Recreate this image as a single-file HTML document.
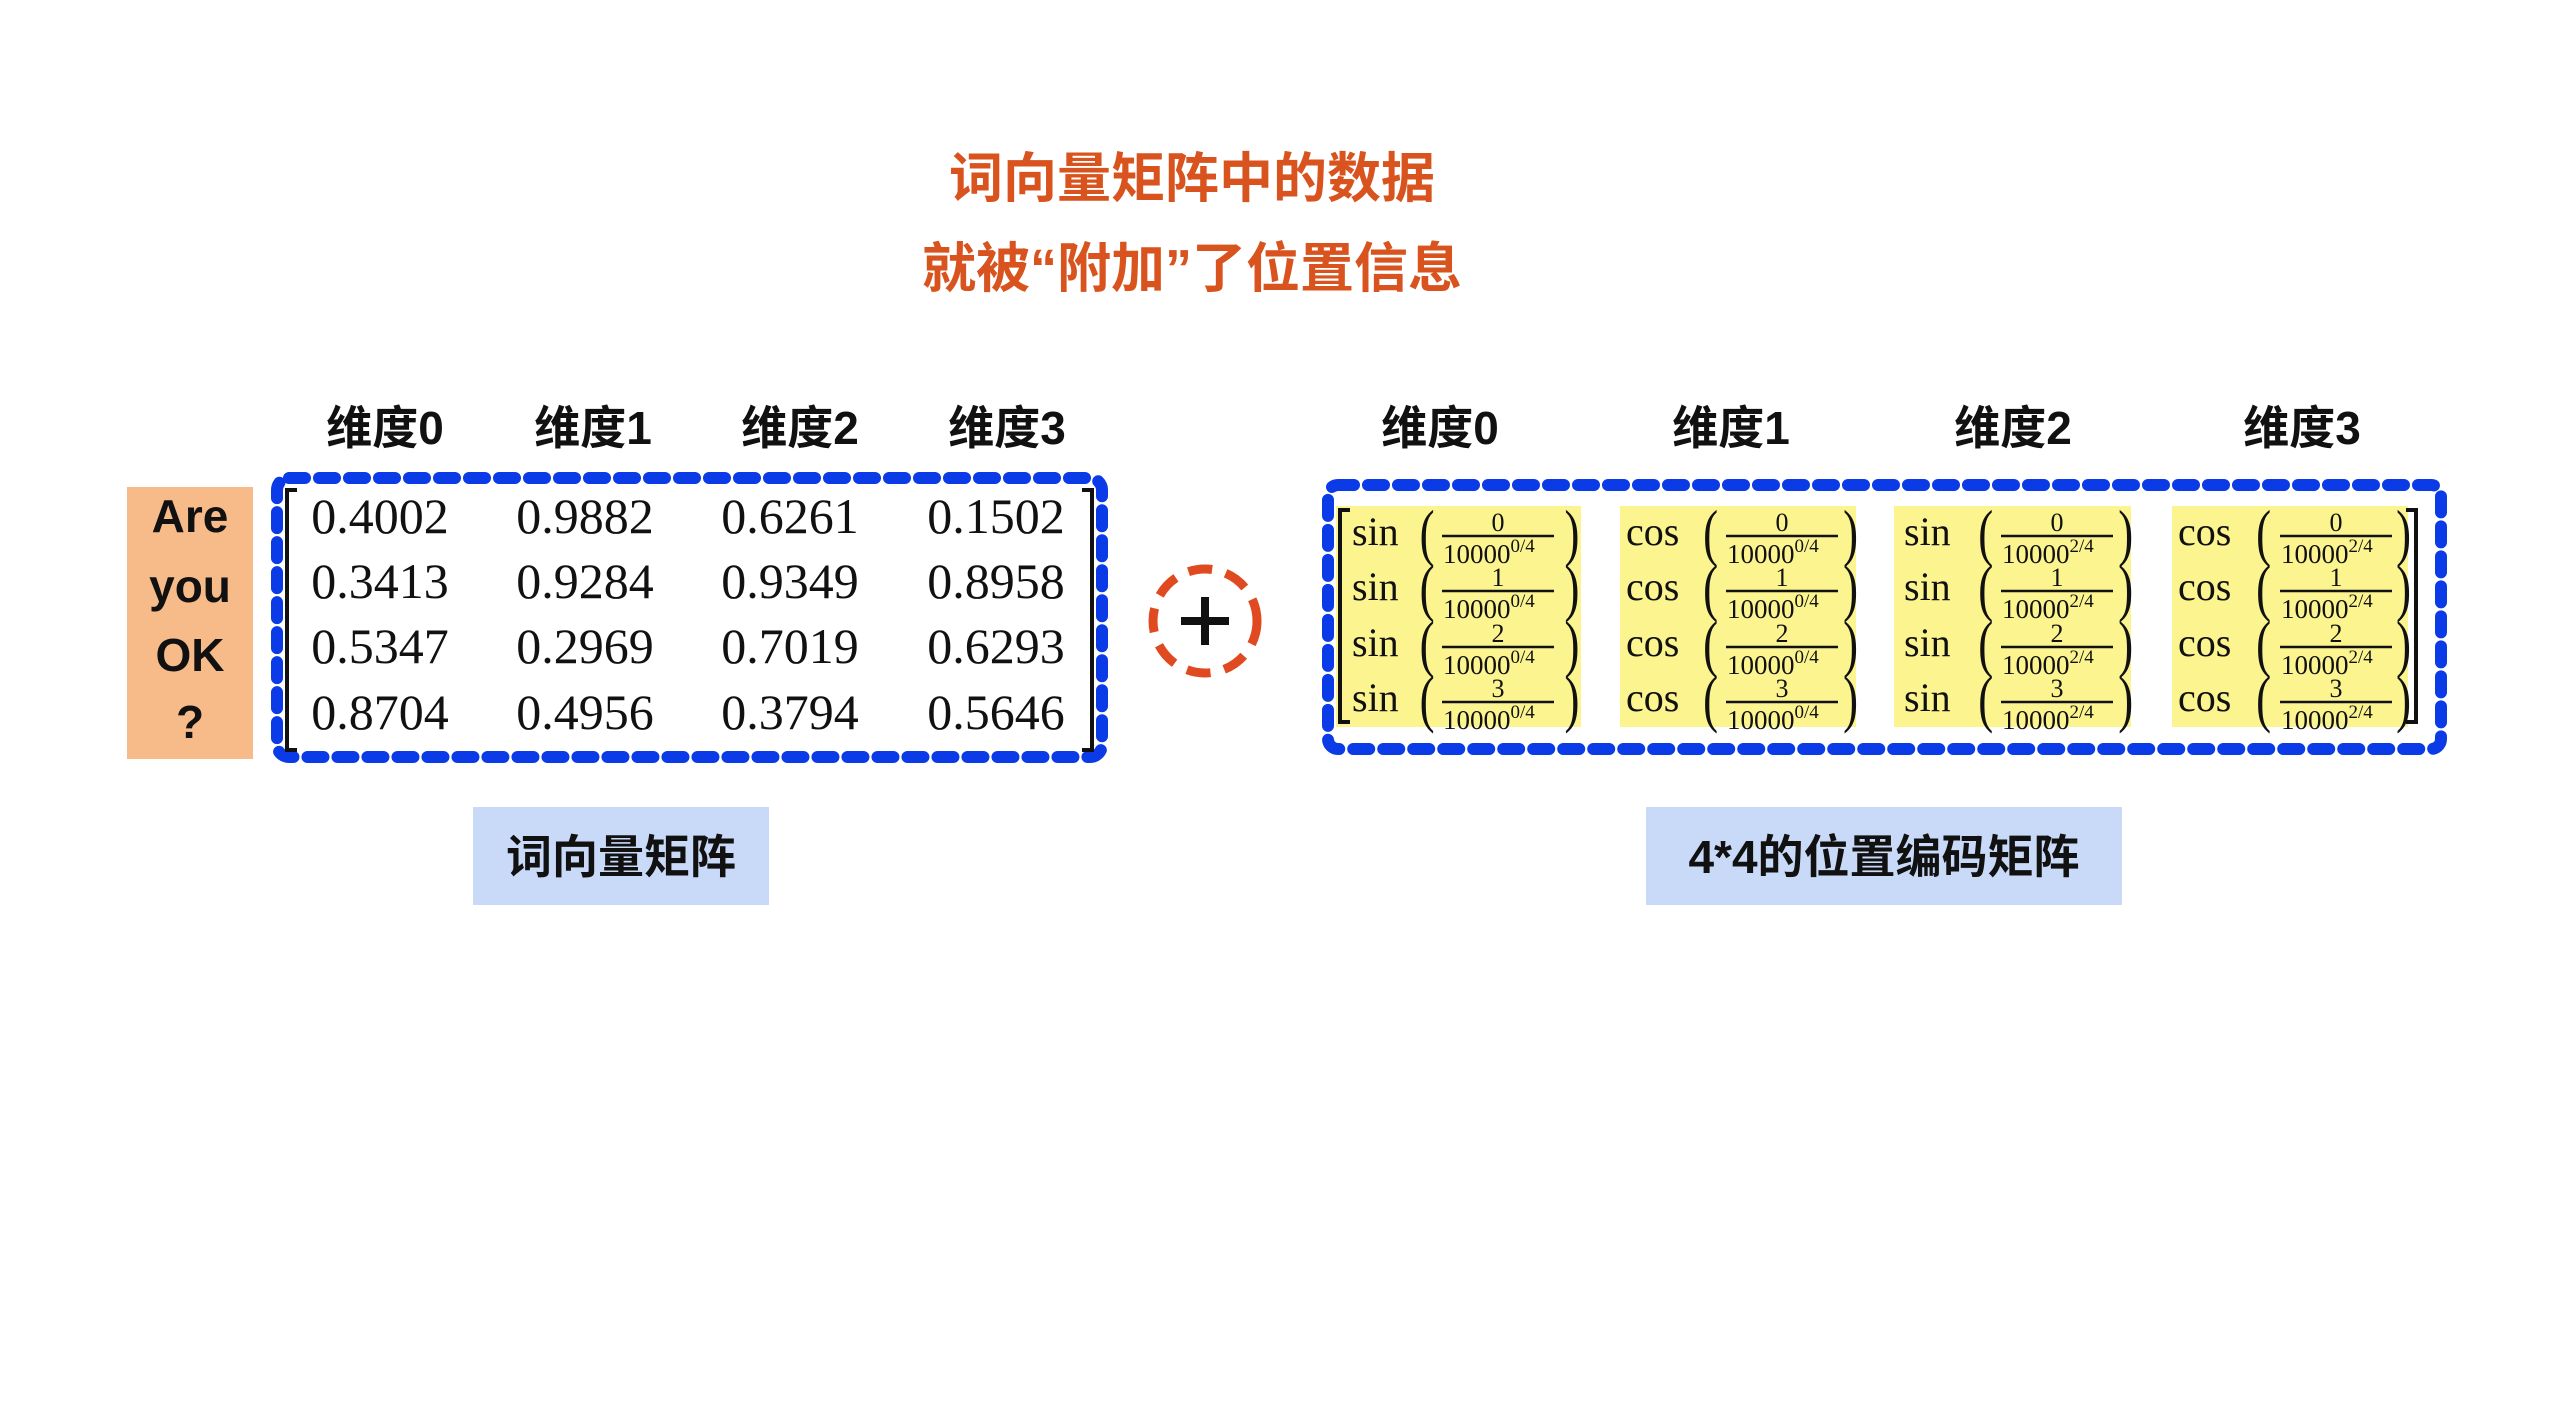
<!DOCTYPE html>
<html><head><meta charset="utf-8"><style>
html,body{margin:0;padding:0;background:#fff;}
svg{display:block;}
.cjk{font-family:"Liberation Sans","Noto Sans CJK SC",sans-serif;font-weight:bold;}
.ser{font-family:"Liberation Serif",serif;}
</style></head><body>
<svg width="2560" height="1422" viewBox="0 0 2560 1422" xmlns="http://www.w3.org/2000/svg">
<rect width="2560" height="1422" fill="#fff"/>
<g class="cjk" fill="#d9531e" font-size="54" text-anchor="middle">
<text x="1192" y="197">词向量矩阵中的数据</text>
<text x="1192" y="287">就被“附加”了位置信息</text>
</g>
<g class="cjk" font-size="46" text-anchor="middle" fill="#111">
<text x="385" y="444">维度0</text><text x="593" y="444">维度1</text><text x="800" y="444">维度2</text><text x="1007" y="444">维度3</text>
<text x="1440" y="444">维度0</text><text x="1731" y="444">维度1</text><text x="2013" y="444">维度2</text><text x="2302" y="444">维度3</text>
</g>
<rect x="127" y="487" width="126" height="272" fill="#f7bb8a"/>
<g class="cjk" font-size="46" text-anchor="middle" fill="#111">
<text x="190" y="532">Are</text><text x="190" y="602">you</text><text x="190" y="671">OK</text><text x="190" y="738">?</text>
</g>
<rect x="277" y="478" width="825" height="279" rx="12" fill="none" stroke="#0b3be6" stroke-width="12" stroke-dasharray="16 14" stroke-linecap="round"/>
<path d="M297 490 h-10 v260 h10 M1082 490 h10 v260 h-10" fill="none" stroke="#111" stroke-width="4"/>
<g class="ser" font-size="50" text-anchor="middle" fill="#111">
<text x="380" y="533">0.4002</text><text x="585" y="533">0.9882</text><text x="790" y="533">0.6261</text><text x="996" y="533">0.1502</text>
<text x="380" y="598">0.3413</text><text x="585" y="598">0.9284</text><text x="790" y="598">0.9349</text><text x="996" y="598">0.8958</text>
<text x="380" y="663">0.5347</text><text x="585" y="663">0.2969</text><text x="790" y="663">0.7019</text><text x="996" y="663">0.6293</text>
<text x="380" y="729">0.8704</text><text x="585" y="729">0.4956</text><text x="790" y="729">0.3794</text><text x="996" y="729">0.5646</text>
</g>
<circle cx="1205" cy="621" r="52" fill="none" stroke="#e04a20" stroke-width="9" stroke-dasharray="24 14"/>
<path d="M1205 597 v48 M1181 621 h48" stroke="#111" stroke-width="8"/>
<rect x="1328" y="485" width="1113" height="264" rx="10" fill="none" stroke="#0b3be6" stroke-width="12" stroke-dasharray="16 14" stroke-linecap="round"/>
<rect x="473" y="807" width="296" height="98" fill="#c9daf8"/>
<rect x="1646" y="807" width="476" height="98" fill="#c9daf8"/>
<g class="cjk" font-size="46" text-anchor="middle" fill="#111">
<text x="621" y="873">词向量矩阵</text><text x="1884" y="873">4*4的位置编码矩阵</text>
</g>
<g class="ser" fill="#111">
<rect x="1336" y="506" width="245" height="221" fill="#fbf48f"/>
<rect x="1620" y="506" width="236" height="221" fill="#fbf48f"/>
<rect x="1894" y="506" width="237" height="221" fill="#fbf48f"/>
<rect x="2172" y="506" width="236" height="221" fill="#fbf48f"/>
<path d="M1350 510 h-10 v212 h10 M2406 510 h10 v212 h-10" fill="none" stroke="#111" stroke-width="4"/>
</g>
<g class="ser" fill="#111">
<g font-size="40">
<text x="1352" y="545">sin</text><text x="1352" y="600">sin</text><text x="1352" y="656">sin</text><text x="1352" y="711">sin</text>
<text x="1626" y="545">cos</text><text x="1626" y="600">cos</text><text x="1626" y="656">cos</text><text x="1626" y="711">cos</text>
<text x="1904" y="545">sin</text><text x="1904" y="600">sin</text><text x="1904" y="656">sin</text><text x="1904" y="711">sin</text>
<text x="2178" y="545">cos</text><text x="2178" y="600">cos</text><text x="2178" y="656">cos</text><text x="2178" y="711">cos</text>
</g>
<g font-size="64" transform="scale(0.7,1)">
<text x="2028" y="554">(</text><text x="2028" y="609">(</text><text x="2028" y="665">(</text><text x="2028" y="720">(</text>
<text x="2235" y="554">)</text><text x="2235" y="609">)</text><text x="2235" y="665">)</text><text x="2235" y="720">)</text>
<text x="2433" y="554">(</text><text x="2433" y="609">(</text><text x="2433" y="665">(</text><text x="2433" y="720">(</text>
<text x="2633" y="554">)</text><text x="2633" y="609">)</text><text x="2633" y="665">)</text><text x="2633" y="720">)</text>
<text x="2826" y="554">(</text><text x="2826" y="609">(</text><text x="2826" y="665">(</text><text x="2826" y="720">(</text>
<text x="3026" y="554">)</text><text x="3026" y="609">)</text><text x="3026" y="665">)</text><text x="3026" y="720">)</text>
<text x="3223" y="554">(</text><text x="3223" y="609">(</text><text x="3223" y="665">(</text><text x="3223" y="720">(</text>
<text x="3423" y="554">)</text><text x="3423" y="609">)</text><text x="3423" y="665">)</text><text x="3423" y="720">)</text>
</g>
<g stroke="#111" stroke-width="2.5">
<path d="M1442 536 h112 M1442 591 h112 M1442 647 h112 M1442 702 h112"/>
<path d="M1726 536 h112 M1726 591 h112 M1726 647 h112 M1726 702 h112"/>
<path d="M2001 536 h112 M2001 591 h112 M2001 647 h112 M2001 702 h112"/>
<path d="M2280 536 h112 M2280 591 h112 M2280 647 h112 M2280 702 h112"/>
</g>
<g font-size="26" text-anchor="middle">
<text x="1498" y="531">0</text><text x="1498" y="586">1</text><text x="1498" y="642">2</text><text x="1498" y="697">3</text>
<text x="1782" y="531">0</text><text x="1782" y="586">1</text><text x="1782" y="642">2</text><text x="1782" y="697">3</text>
<text x="2057" y="531">0</text><text x="2057" y="586">1</text><text x="2057" y="642">2</text><text x="2057" y="697">3</text>
<text x="2336" y="531">0</text><text x="2336" y="586">1</text><text x="2336" y="642">2</text><text x="2336" y="697">3</text>
</g>
<g font-size="27">
<text x="1443" y="563">10000<tspan font-size="19" dy="-11">0/4</tspan></text><text x="1443" y="618">10000<tspan font-size="19" dy="-11">0/4</tspan></text><text x="1443" y="674">10000<tspan font-size="19" dy="-11">0/4</tspan></text><text x="1443" y="729">10000<tspan font-size="19" dy="-11">0/4</tspan></text>
<text x="1727" y="563">10000<tspan font-size="19" dy="-11">0/4</tspan></text><text x="1727" y="618">10000<tspan font-size="19" dy="-11">0/4</tspan></text><text x="1727" y="674">10000<tspan font-size="19" dy="-11">0/4</tspan></text><text x="1727" y="729">10000<tspan font-size="19" dy="-11">0/4</tspan></text>
<text x="2002" y="563">10000<tspan font-size="19" dy="-11">2/4</tspan></text><text x="2002" y="618">10000<tspan font-size="19" dy="-11">2/4</tspan></text><text x="2002" y="674">10000<tspan font-size="19" dy="-11">2/4</tspan></text><text x="2002" y="729">10000<tspan font-size="19" dy="-11">2/4</tspan></text>
<text x="2281" y="563">10000<tspan font-size="19" dy="-11">2/4</tspan></text><text x="2281" y="618">10000<tspan font-size="19" dy="-11">2/4</tspan></text><text x="2281" y="674">10000<tspan font-size="19" dy="-11">2/4</tspan></text><text x="2281" y="729">10000<tspan font-size="19" dy="-11">2/4</tspan></text>
</g>
</g>
</svg>
</body></html>
